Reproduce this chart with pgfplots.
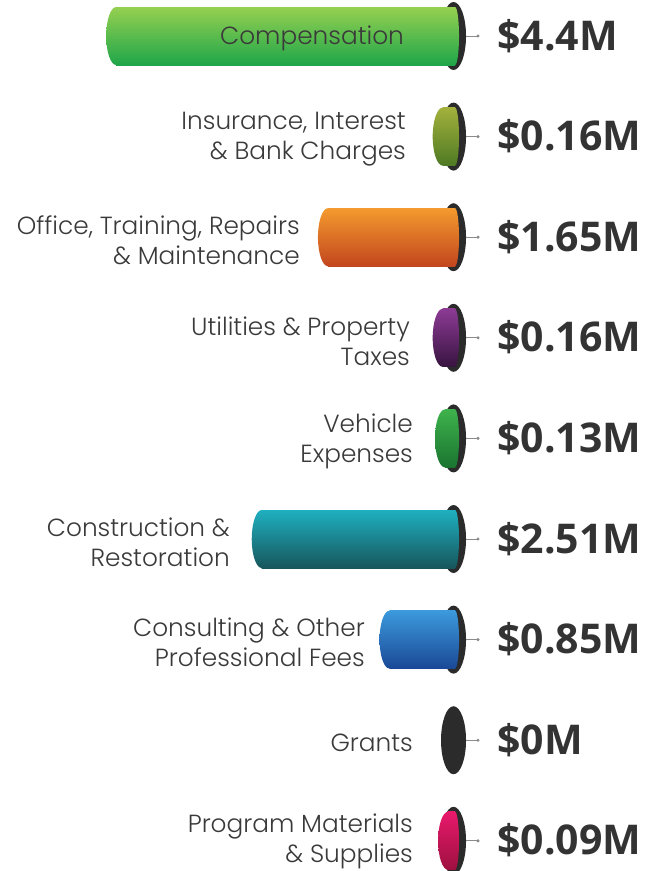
\documentclass[border=0pt]{standalone}
\usepackage{pgfplots}
\pgfplotsset{compat=1.18}
\usetikzlibrary{shapes.geometric}
\usepackage{fontspec}
\setmainfont{Poppins}[UprightFont=* Light]
\newfontfamily\valfont{Open Sans}
\definecolor{capblack}{HTML}{2B2B2B}
\definecolor{stubgray}{HTML}{8A8A8A}
\definecolor{labgray}{HTML}{3A3A3A}
\definecolor{valgray}{HTML}{333333}
\definecolor{gT}{HTML}{95D050}\definecolor{gB}{HTML}{1FA64A}
\definecolor{oT}{HTML}{A3B13C}\definecolor{oB}{HTML}{4E7A24}
\definecolor{rT}{HTML}{F49A2E}\definecolor{rB}{HTML}{C2461E}
\definecolor{pT}{HTML}{8C3A94}\definecolor{pB}{HTML}{381440}
\definecolor{vT}{HTML}{3EB24C}\definecolor{vB}{HTML}{1A7430}
\definecolor{tT}{HTML}{1FB0C0}\definecolor{tB}{HTML}{17565C}
\definecolor{bT}{HTML}{3C9ADC}\definecolor{bB}{HTML}{1A4896}
\definecolor{kT}{HTML}{E8196C}\definecolor{kB}{HTML}{9E1040}
\pgfplotsset{
 nn/.style={draw=none, mark=none, nodes near coords={},
   every node near coord/.append style={inner sep=0pt, outer sep=0pt, anchor=center, #1}},
 base/.style={at={(0,0)}, anchor=south west, scale only axis,
  width=658pt, height=871pt, hide axis, clip=false,
  xmin=-5.909, xmax=2.636, ymin=-0.358, ymax=8.300, y dir=reverse},
}
\tikzset{
 lab/.style={anchor=east, align=right, inner sep=0pt, text=labgray, yshift=-3pt,
  font=\fontsize{24.8}{30}\selectfont},
 val/.style={anchor=base west, inner sep=0pt, text=valgray, yshift=-14pt,
  font=\valfont\bfseries\fontsize{41}{41}\selectfont},
 blackcap/.style={ellipse, fill=capblack, minimum width=25pt, minimum height=68pt, xshift=-1.5pt},
 stub/.style={rectangle, fill=stubgray, minimum width=12pt, minimum height=1pt, anchor=west, xshift=11pt},
 stubdot/.style={circle, fill=stubgray, minimum size=3.4pt, xshift=23pt},
}
\newcommand\capat[1]{%
 \addplot[nn={blackcap}] coordinates {(0,#1)};
 \addplot[nn={stub}] coordinates {(0,#1)};
 \addplot[nn={stubdot}] coordinates {(0,#1)};
}
\newcommand\cyl[4]{%
 \addplot[xbar, bar width=58pt, bar shift=0pt, draw=none, top color=#3, bottom color=#4] coordinates {(-#2,#1)};
 \addplot[nn={ellipse, minimum width=20pt, minimum height=58pt, top color=#3, bottom color=#4}] coordinates {(-#2,#1)};
 \addplot[nn={ellipse, minimum width=8pt, minimum height=58pt, top color=#3, bottom color=#4}] coordinates {(0,#1)};
}
\begin{document}
\begin{tikzpicture}
\useasboundingbox (0,0) rectangle (658pt,871pt);
% back layer: black end caps and connector stubs
\begin{axis}[base]
\capat{0}\capat{1}\capat{2}\capat{3}\capat{4}\capat{5}\capat{6}\capat{7}\capat{8}
\end{axis}
% front layer: cylinders, labels, values
\begin{axis}[base]
\cyl{0}{4.4}{gT}{gB}
\cyl{1}{0.16}{oT}{oB}
\cyl{2}{1.65}{rT}{rB}
\cyl{3}{0.16}{pT}{pB}
\cyl{4}{0.13}{vT}{vB}
\cyl{5}{2.51}{tT}{tB}
\cyl{6}{0.85}{bT}{bB}
\cyl{8}{0.09}{kT}{kB}
\node[lab, anchor=center, align=center, yshift=1pt] at (axis cs:-1.857,0) {Compensation};
\node[lab] at (axis cs:-0.636,1) {Insurance, Interest\\\& Bank Charges};
\node[lab] at (axis cs:-2.013,2) {Office, Training, Repairs\\\& Maintenance};
\node[lab] at (axis cs:-0.584,3) {Utilities \& Property\\Taxes};
\node[lab] at (axis cs:-0.545,4) {Vehicle\\Expenses};
\node[lab] at (axis cs:-2.922,5) {Construction \&\\Restoration};
\node[lab] at (axis cs:-1.169,6) {Consulting \& Other\\Professional Fees};
\node[lab] at (axis cs:-0.545,7) {Grants};
\node[lab, yshift=2pt] at (axis cs:-0.545,8) {Program Materials\\\& Supplies};
\node[val] at (axis cs:0.545,0) {\$4.4M};
\node[val] at (axis cs:0.545,1) {\$0.16M};
\node[val] at (axis cs:0.545,2) {\$1.65M};
\node[val] at (axis cs:0.545,3) {\$0.16M};
\node[val] at (axis cs:0.545,4) {\$0.13M};
\node[val] at (axis cs:0.545,5) {\$2.51M};
\node[val] at (axis cs:0.545,6) {\$0.85M};
\node[val] at (axis cs:0.545,7) {\$0M};
\node[val] at (axis cs:0.545,8) {\$0.09M};
\end{axis}
\end{tikzpicture}
\end{document}
